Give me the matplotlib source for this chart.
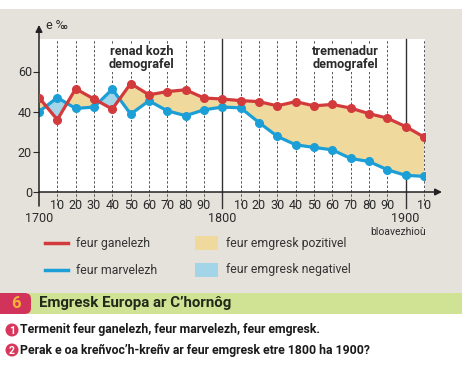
import numpy as np
import matplotlib
matplotlib.use("Agg")
import matplotlib.pyplot as plt
from matplotlib.patches import Rectangle, Circle, FancyBboxPatch

plt.rcParams['font.family'] = ['Roboto', 'DejaVu Sans']

# data (per mille)
years = [1700, 1710, 1720, 1730, 1740, 1750, 1760, 1770, 1780, 1790, 1800,
         1810, 1820, 1830, 1840, 1850, 1860, 1870, 1880, 1890, 1900, 1910]
ganelezh = [47, 36, 51.4, 46.3, 41.3, 54, 48.4, 50, 50.9, 46.8, 46.3,
            45.5, 45, 42.9, 45, 42.9, 43.6, 41.8, 39, 36.8, 32.6, 27.4]
marvelezh = [40, 47, 41.6, 42.3, 51.2, 38.8, 45.4, 40.4, 38, 40.9, 42.3,
             41.9, 34.6, 27.7, 23.5, 22.2, 21, 16.7, 15.2, 11.1, 8.3, 7.8]
yticks = [0, 20, 40, 60]
decade_labels = ['10', '20', '30', '40', '50', '60', '70', '80', '90']

red = '#d23a3c'
blue = '#1c9fd6'
yellow_fill = '#efd99c'
blue_fill = '#a3d5e9'
grey_bg = '#e5e2dc'
txt_col = '#2a2a2a'

W, H = 474, 369
fig = plt.figure(figsize=(W / 100, H / 100), dpi=100)
fig.patch.set_facecolor('white')

# page background drawn in pixel coordinates
bg = fig.add_axes([0, 0, 1, 1])
bg.set_xlim(0, W)
bg.set_ylim(H, 0)
bg.axis('off')
bg.add_patch(Rectangle((0, 9), 462, 284, color=grey_bg, lw=0))
bg.add_patch(Rectangle((28, 293), 434, 21, color='#d0e293', lw=0))
bg.add_patch(FancyBboxPatch((-10, 293), 41, 21, boxstyle='round,pad=0,rounding_size=6',
                            color='#d2335a', lw=0))
bg.text(16, 304, '6', color='#f6b338', fontsize=12, fontweight='bold',
        ha='center', va='center')
bg.text(39, 303.5, 'Emgresk Europa ar C\u2019hornôg', color='#1f2a1a', fontsize=10.8,
        fontweight='bold', ha='left', va='center')

# questions
for i, (yy, txt) in enumerate([(330, 'Termenit feur ganelezh, feur marvelezh, feur emgresk.'),
                               (350, 'Perak e oa kreñvoc\u2019h-kreñv ar feur emgresk etre 1800 ha 1900?')]):
    bg.add_patch(Circle((12, yy), 6.5, color='#d9365c', lw=0))
    bg.text(12, yy + 0.5, str(i + 1), color='white', fontsize=7.5, fontweight='bold',
            ha='center', va='center')
    bg.text(20, yy, txt, color='#1a1a1a', fontsize=8.8, fontweight='bold',
            ha='left', va='center')

# legend
bg.plot([45, 68], [243, 243], color=red, lw=2.5)
bg.plot([45, 68], [270, 270], color=blue, lw=2.5)
bg.text(76, 243, 'feur ganelezh', fontsize=8.8, color='#333333', va='center')
bg.text(76, 270, 'feur marvelezh', fontsize=8.8, color='#333333', va='center')
bg.add_patch(Rectangle((195, 236), 23, 14, color=yellow_fill, lw=0))
bg.add_patch(Rectangle((195, 263), 23, 14, color=blue_fill, lw=0))
bg.text(226, 243, 'feur emgresk pozitivel', fontsize=8.8, color='#333333', va='center')
bg.text(226, 270, 'feur emgresk negativel', fontsize=8.8, color='#333333', va='center')

# chart
x0, x1 = 39, 425
ytop, ybot = 39, 192
px_per_unit = 120.5 / 60
ymax = (ybot - ytop) / px_per_unit
px_per_year = 18.33 / 10
xmax = 1700 + (x1 - x0) / px_per_year
ax = fig.add_axes([x0 / W, (H - ybot) / H, (x1 - x0) / W, (ybot - ytop) / H])
ax.set_facecolor('white')
ax.set_xlim(1700, xmax)
ax.set_ylim(0, ymax)
for s in ['top', 'right', 'left', 'bottom']:
    ax.spines[s].set_visible(False)

g = np.array(ganelezh)
m = np.array(marvelezh)
ax.fill_between(years, g, m, where=g >= m, interpolate=True, color=yellow_fill, lw=0, zorder=2)
ax.fill_between(years, g, m, where=g <= m, interpolate=True, color=blue_fill, lw=0, zorder=2)

for yr in years[1:]:
    if yr in (1800, 1900):
        continue
    ax.plot([yr, yr], [-6.5, ymax], color='#555555', lw=0.7, ls=(0, (2.5, 2)),
            clip_on=False, zorder=1)
for yr in (1800, 1900):
    ax.plot([yr, yr], [-8, ymax], color='#333333', lw=1, clip_on=False, zorder=1)

ax.plot(years, ganelezh, color=red, lw=2.3, marker='o', ms=5.5, zorder=4)
ax.plot(years, marvelezh, color=blue, lw=2.3, marker='o', ms=5.5, zorder=3)

# axes with arrows
ax.annotate('', xy=(1700, ymax + 7), xytext=(1700, -7), xycoords='data',
            arrowprops=dict(arrowstyle='-|>', color='#222222', lw=1.1,
                            mutation_scale=10, shrinkA=0, shrinkB=0),
            annotation_clip=False)
ax.annotate('', xy=(1700 + (442 - x0) / px_per_year, 0), xytext=(1700, 0),
            xycoords='data',
            arrowprops=dict(arrowstyle='-|>', color='#222222', lw=1.1,
                            mutation_scale=10, shrinkA=0, shrinkB=0),
            annotation_clip=False)
ax.text(1704, ymax + 6.5, 'e ‰', fontsize=9, color=txt_col, va='center', ha='left')

ax.set_yticks(yticks)
ax.tick_params(axis='y', direction='out', length=4, width=0.8, colors=txt_col,
               labelsize=9, pad=1)
ax.set_xticks([])

tr = ax.get_xaxis_transform()
for c in (1700, 1800):
    for k, lab in enumerate(decade_labels):
        ax.text(c + 10 * (k + 1), -0.085, lab, transform=tr, ha='center', va='center',
                fontsize=9, color=txt_col)
ax.text(1910, -0.085, '10', transform=tr, ha='center', va='center', fontsize=9,
        color=txt_col)
for c in (1700, 1800, 1900):
    ax.text(c, -0.17, str(c), transform=tr, ha='center', va='center', fontsize=9,
            color=txt_col)
ax.text(1896, -0.26, 'bloavezhioù', transform=tr, ha='center', va='center',
        fontsize=7.5, color=txt_col)

box = dict(facecolor='white', edgecolor='none', pad=0.5)
ax.text(1756, 66.5, 'renad kozh\ndemografel', ha='center', va='center', fontsize=9.2,
        fontweight='bold', color=txt_col, linespacing=1.0, zorder=5, bbox=box)
ax.text(1867, 66.5, 'tremenadur\ndemografel', ha='center', va='center', fontsize=9.2,
        fontweight='bold', color=txt_col, linespacing=1.0, zorder=5, bbox=box)

fig.savefig('out.png', dpi=100)
